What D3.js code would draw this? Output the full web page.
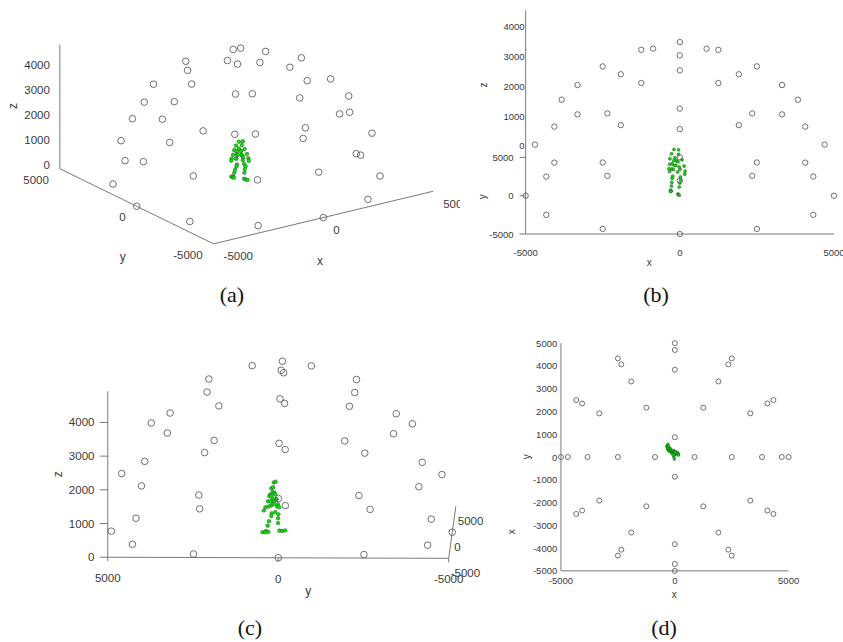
<!DOCTYPE html>
<html>
<head>
<meta charset="utf-8">
<script src="https://cdn.jsdelivr.net/npm/d3@7"></script>
<style>
  body { margin: 0; background: #fff; }
  svg { display: block; font-family: "Liberation Sans", Arial, sans-serif; }
</style>
</head>
<body>
<svg width="843" height="642"></svg>
<script>
// camera positions on the dome (mm), read from the four views
const camX = [5000, 4330, 2500, 0, -2500, -4330, -5000, -4330, -2500, 0, 2500, 4330,
  4698, 4069, 2349, 0, -2349, -4069, -4698, -4069, -2349, 0, 2349, 4069,
  3830, 3317, 1915, 0, -1915, -3317, -3830, -3317, -1915, 0, 1915, 3317,
  2500, 1250, -1250, -2500, -1250, 1250,
  868, 0, -868, 0];
const camY = [0, 2500, 4330, 5000, 4330, 2500, 0, -2500, -4330, -5000, -4330, -2500,
  0, 2349, 4069, 4698, 4069, 2349, 0, -2349, -4069, -4698, -4069, -2349,
  0, 1915, 3317, 3830, 3317, 1915, 0, -1915, -3317, -3830, -3317, -1915,
  0, 2165, 2165, 0, -2165, -2165,
  0, 868, 0, -868];
const camZ = [0, 0, 0, 0, 0, 0, 0, 0, 0, 0, 0, 0,
  1710, 1710, 1710, 1710, 1710, 1710, 1710, 1710, 1710, 1710, 1710, 1710,
  3214, 3214, 3214, 3214, 3214, 3214, 3214, 3214, 3214, 3214, 3214, 3214,
  4330, 4330, 4330, 4330, 4330, 4330,
  4924, 4924, 4924, 4924];

// body markers of the person in the middle (mm)
const skelX = [-190, -40, -270, -40, -160, -320, 70, -110, -200, -60, -250, -130, -330, 140,
  -180, -20, -350, 170, -260, 10, -210, -70, -330, 160, -230, 20, -250, 30, -260, 0,
  -270, -20, -290, -300, -280, -300, -60, -40, -20];
const skelY = [230, 180, 300, 250, 270, 340, 220, 190, 360, 300, 260, 150, 400, 170,
  320, 230, 470, 120, 300, 240, 380, 140, 520, 80, 290, 190, 300, 100, 370, 110,
  410, 110, 460, 560, 480, 390, 70, -10, -100];
const skelZ = [1490, 1490, 1330, 1320, 1200, 1150, 1150, 1120, 1080, 1060, 1000, 980, 950, 950,
  930, 900, 780, 790, 820, 820, 780, 760, 680, 700, 580, 580, 500, 510, 350, 400,
  220, 260, 60, 30, 30, 40, 40, 30, 40];

const ticksXY = [-5000, 0, 5000];
const ticksZ = [0, 1000, 2000, 3000, 4000];
const ticksTop = [5000, 4000, 3000, 2000, 1000, 0, -1000, -2000, -3000, -4000, -5000];
const lim = 5000;
const zTop = 4924;

const cams = camX.map((x, i) => [x, camY[i], camZ[i]]);
const skel = skelX.map((x, i) => [x, skelY[i], skelZ[i]]);

const panels = [
  {
    az: -35, el: 20, k: 0.0268, cx: 246.5, cy: 180, rCam: 3.3, rSkel: 1.8, fs: 11.5, clip: 460,
    axes: [[[-lim, -lim, 0], [lim, -lim, 0]], [[-lim, -lim, 0], [-lim, lim, 0]], [[-lim, lim, 0], [-lim, lim, zTop]]],
    ticks: [
      { vals: ticksXY, at: t => [t, -lim, 0], anchor: 'start', dx: 10, dy: 12.5 },
      { vals: ticksXY, at: t => [-lim, t, 0], anchor: 'end', dx: -11, dy: 11 },
      { vals: ticksZ, at: t => [-lim, lim, t], anchor: 'end', dx: -10, dy: -3.5 }
    ],
    labels: [['x', 320, 261, 0], ['y', 122.7, 256.7, 0], ['z', 13.3, 106, -90]],
    caption: ['(a)', 232, 294]
  },
  {
    az: 0, el: 14.4, k: 0.03083, cx: 679.8, cy: 195.7, rCam: 2.7, rSkel: 1.5, fs: 9.5,
    axes: [[[-lim, -lim, 0], [lim, -lim, 0]], [[-lim, -lim, 0], [-lim, lim, 0]], [[-lim, lim, 0], [-lim, lim, zTop]]],
    ticks: [
      { vals: ticksXY, at: t => [t, -lim, 0], anchor: 'middle', dx: 0, dy: 18 },
      { vals: ticksXY, at: t => [-lim, t, 0], anchor: 'end', dx: -12, dy: 0, mark: [-6, 0] },
      { vals: ticksZ, at: t => [-lim, lim, t], anchor: 'end', dx: -1, dy: -11.5 }
    ],
    labels: [['x', 649.3, 262.3, 0], ['y', 482.7, 196.7, -90], ['z', 483.3, 85, -90]],
    caption: ['(b)', 656, 294]
  },
  {
    az: -88.8, el: 8.8, k: 0.0341, cx: 281.8, cy: 531.7, rCam: 3.3, rSkel: 1.8, fs: 11.5,
    axes: [[[-lim, lim, 0], [-lim, -lim, 0]], [[-lim, -lim, 0], [lim, -lim, 0]], [[-lim, lim, 0], [-lim, lim, zTop]]],
    ticks: [
      { vals: ticksXY, at: t => [-lim, t, 0], anchor: 'middle', dx: 0, dy: 21, mark: [0, 4] },
      { vals: ticksZ, at: t => [-lim, lim, t], anchor: 'end', dx: -13.3, dy: 0, mark: [-8, 0] },
      { vals: ticksXY, at: t => [t, -lim, 0], anchor: 'start', dx: 2, dy: 15 }
    ],
    labels: [['y', 308.3, 590.7, 0], ['z', 58.3, 474.3, -90]],
    caption: ['(c)', 250, 627]
  },
  {
    az: 0, el: 90, k: 0.02277, cx: 674.8, cy: 457, rCam: 2.5, rSkel: 1.3, fs: 9.5,
    axes: [[[-lim, -lim, 0], [lim, -lim, 0]], [[-lim, -lim, 0], [-lim, lim, 0]]],
    ticks: [
      { vals: ticksXY, at: t => [t, -lim, 0], anchor: 'middle', dx: 0, dy: 9.5 },
      { vals: ticksTop, at: t => [-lim, t, 0], anchor: 'end', dx: -3.7, dy: 0 }
    ],
    labels: [['x', 674.3, 594.3, 0], ['y', 526.7, 456.7, -90], ['x', 511.7, 531.7, -90]],
    caption: ['(d)', 664, 627]
  }
];

const svg = d3.select('svg');
svg.append('rect').attr('width', 843).attr('height', 642).attr('fill', '#fff');

const defs = svg.append('defs');

panels.forEach((p, pi) => {
  const a = p.az * Math.PI / 180;
  const e = p.el * Math.PI / 180;
  const sx = d3.scaleLinear().domain([-lim, lim]).range([p.cx - lim * p.k, p.cx + lim * p.k]);
  const sy = d3.scaleLinear().domain([-lim, lim]).range([p.cy + lim * p.k, p.cy - lim * p.k]);
  // orthographic view(az, el) like matlab
  const proj = ([x, y, z]) => {
    const u = x * Math.cos(a) + y * Math.sin(a);
    const v = (-x * Math.sin(a) + y * Math.cos(a)) * Math.sin(e) + z * Math.cos(e);
    return [sx(u), sy(v)];
  };

  const g = svg.append('g');
  if (p.clip) {
    defs.append('clipPath').attr('id', `clip-${pi}`)
      .append('rect').attr('x', 0).attr('y', 0).attr('width', p.clip).attr('height', 320);
    g.attr('clip-path', `url(#clip-${pi})`);
  }

  // axis lines
  g.append('g').selectAll('line')
    .data(p.axes)
    .enter().append('line')
    .attr('x1', d => proj(d[0])[0])
    .attr('y1', d => proj(d[0])[1])
    .attr('x2', d => proj(d[1])[0])
    .attr('y2', d => proj(d[1])[1])
    .attr('stroke', '#6a6a6a')
    .attr('stroke-width', 0.9);

  // tick labels
  p.ticks.forEach((tk) => {
    const tg = g.append('g');
    if (tk.mark) {
      tg.selectAll('line')
        .data(tk.vals)
        .enter().append('line')
        .attr('x1', d => proj(tk.at(d))[0])
        .attr('y1', d => proj(tk.at(d))[1])
        .attr('x2', d => proj(tk.at(d))[0] + tk.mark[0])
        .attr('y2', d => proj(tk.at(d))[1] + tk.mark[1])
        .attr('stroke', '#6a6a6a')
        .attr('stroke-width', 0.9);
    }
    tg.selectAll('text')
      .data(tk.vals)
      .enter().append('text')
      .attr('x', d => proj(tk.at(d))[0] + tk.dx)
      .attr('y', d => proj(tk.at(d))[1] + tk.dy)
      .attr('text-anchor', tk.anchor)
      .attr('dominant-baseline', 'central')
      .attr('font-size', p.fs)
      .attr('fill', '#3a3a3a')
      .text(d => d);
  });

  // axis names
  g.append('g').selectAll('text')
    .data(p.labels)
    .enter().append('text')
    .attr('transform', d => `translate(${d[1]},${d[2]}) rotate(${d[3]})`)
    .attr('text-anchor', 'middle')
    .attr('dominant-baseline', 'central')
    .attr('font-size', p.fs + 0.5)
    .attr('fill', '#3a3a3a')
    .text(d => d[0]);

  // person markers
  g.append('g').selectAll('circle')
    .data(skel)
    .enter().append('circle')
    .attr('cx', d => proj(d)[0])
    .attr('cy', d => proj(d)[1])
    .attr('r', p.rSkel)
    .attr('fill', '#00ee00')
    .attr('stroke', '#2b3d2b')
    .attr('stroke-width', 0.5);

  // cameras
  g.append('g').selectAll('circle')
    .data(cams)
    .enter().append('circle')
    .attr('cx', d => proj(d)[0])
    .attr('cy', d => proj(d)[1])
    .attr('r', p.rCam)
    .attr('fill', 'none')
    .attr('stroke', '#606060')
    .attr('stroke-width', 0.9);

  svg.append('text')
    .attr('x', p.caption[1])
    .attr('y', p.caption[2])
    .attr('text-anchor', 'middle')
    .attr('dominant-baseline', 'central')
    .attr('font-family', '"Liberation Serif", "DejaVu Serif", serif')
    .attr('font-size', 22)
    .attr('fill', '#111')
    .text(p.caption[0]);
});
</script>
</body>
</html>
